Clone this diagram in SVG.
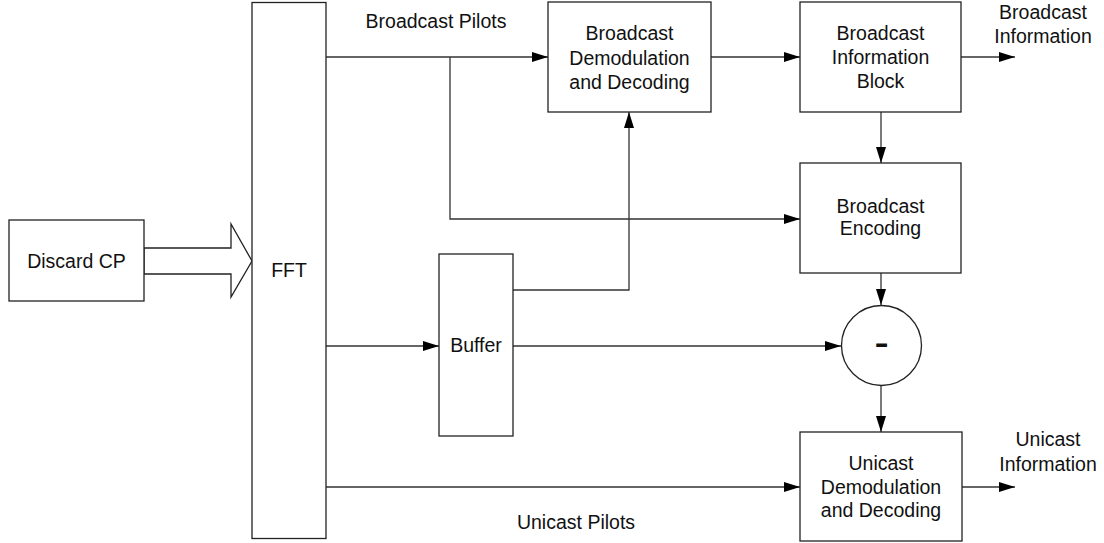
<svg xmlns="http://www.w3.org/2000/svg" width="1104" height="543" viewBox="0 0 1104 543">
<style>
.box{fill:#fff;stroke:#222;stroke-width:1.3}
.ln{fill:none;stroke:#333;stroke-width:1.3}
.t{font-family:"Liberation Sans",Arial,sans-serif;font-size:19.5px;fill:#111;text-anchor:middle}
</style>
<defs>
<marker id="ah" markerWidth="16" markerHeight="10" refX="16" refY="5" orient="auto" markerUnits="userSpaceOnUse">
<path d="M0,0 L16,5 L0,10 Z" fill="#000"/>
</marker>
</defs>
<rect width="1104" height="543" fill="#fff"/>
<g id="connectors">
<polygon class="box" points="144,248 231,248 231,224 252,261 231,297 231,274 144,274"/>
<path class="ln" d="M326,57 H548" marker-end="url(#ah)"/>
<path class="ln" d="M450,57 V219 H800" marker-end="url(#ah)"/>
<path class="ln" d="M711,57 H800" marker-end="url(#ah)"/>
<path class="ln" d="M961,57 H1015" marker-end="url(#ah)"/>
<path class="ln" d="M881,112 V163" marker-end="url(#ah)"/>
<path class="ln" d="M881,273 V305" marker-end="url(#ah)"/>
<path class="ln" d="M513,290 H629 V112" marker-end="url(#ah)"/>
<path class="ln" d="M326,346 H439" marker-end="url(#ah)"/>
<path class="ln" d="M513,346 H841" marker-end="url(#ah)"/>
<path class="ln" d="M881,386 V432" marker-end="url(#ah)"/>
<path class="ln" d="M326,487 H800" marker-end="url(#ah)"/>
<path class="ln" d="M962,487 H1015" marker-end="url(#ah)"/>
</g>
<g id="discard">
<rect class="box" x="9" y="220" width="135" height="81"/>
<text class="t" x="76.5" y="267.5">Discard CP</text>
</g>
<g id="fft">
<rect class="box" x="252" y="2.5" width="74" height="536"/>
<text class="t" x="289" y="277">FFT</text>
</g>
<g id="pilots-label">
<text class="t" x="436" y="28">Broadcast Pilots</text>
</g>
<g id="bdemod">
<rect class="box" x="548" y="2" width="163" height="110"/>
<text class="t" x="629.5" y="40">Broadcast</text>
<text class="t" x="629.5" y="65">Demodulation</text>
<text class="t" x="629.5" y="89">and Decoding</text>
</g>
<g id="binfo">
<rect class="box" x="800" y="2" width="161" height="110"/>
<text class="t" x="880.5" y="40">Broadcast</text>
<text class="t" x="880.5" y="64">Information</text>
<text class="t" x="880.5" y="88">Block</text>
</g>
<g id="binfo-out">
<text class="t" x="1043" y="18.5">Broadcast</text>
<text class="t" x="1043" y="42.5">Information</text>
</g>
<g id="benc">
<rect class="box" x="800" y="163" width="161" height="110"/>
<text class="t" x="880.5" y="213">Broadcast</text>
<text class="t" x="880.5" y="235">Encoding</text>
</g>
<g id="buffer">
<rect class="box" x="439" y="254" width="74" height="182"/>
<text class="t" x="476" y="351.5">Buffer</text>
</g>
<g id="minus">
<circle class="box" cx="881.5" cy="345.5" r="40"/>
<text class="t" x="881.5" y="356.5" style="font-size:44px">-</text>
</g>
<g id="udemod">
<rect class="box" x="800" y="432" width="162" height="109"/>
<text class="t" x="881" y="469.5">Unicast</text>
<text class="t" x="881" y="493.5">Demodulation</text>
<text class="t" x="881" y="517">and Decoding</text>
</g>
<g id="uinfo-out">
<text class="t" x="1048" y="446">Unicast</text>
<text class="t" x="1048" y="470.5">Information</text>
</g>
<g id="upilots-label">
<text class="t" x="576" y="528.5">Unicast Pilots</text>
</g>
</svg>
